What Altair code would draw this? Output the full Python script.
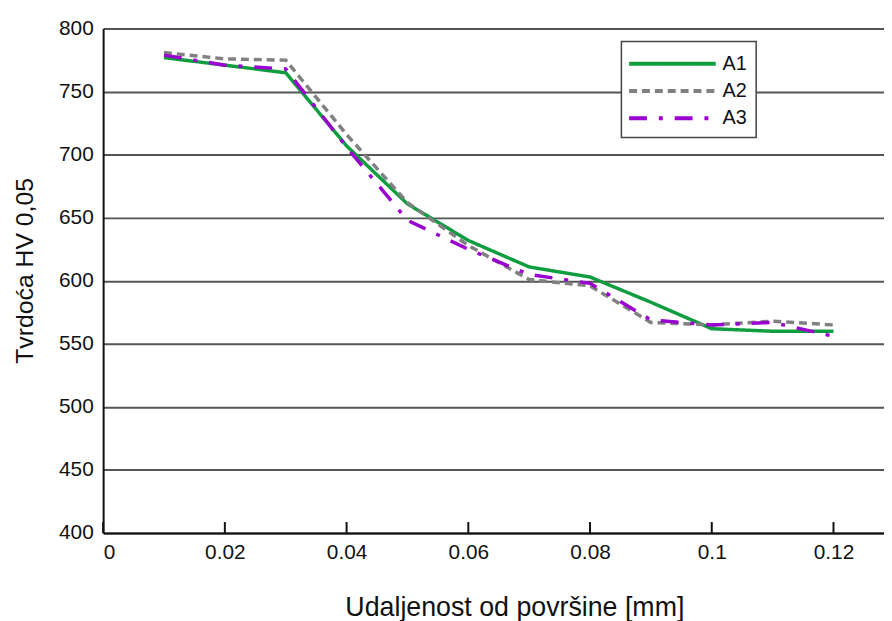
import altair as alt
import pandas as pd

# Data
x_mm = [0.01, 0.02, 0.03, 0.04, 0.05, 0.06, 0.07, 0.08, 0.09, 0.10, 0.11, 0.12]
a1 = [777, 771, 765, 707, 661, 632, 611, 603, 583, 562, 560, 560]
a2 = [781, 776, 775, 716, 662, 628, 601, 596, 567, 565, 568, 565]
a3 = [779, 771, 768, 706, 648, 625, 605, 598, 569, 565, 567, 556]

series = ["A1", "A2", "A3"]
colors = ["#0f9d3f", "#808080", "#9a00d0"]
dashes = [[1, 0], [8, 5], [18, 12, 4, 12]]

x_ticks = [0, 0.02, 0.04, 0.06, 0.08, 0.10, 0.12]
y_ticks = [400, 450, 500, 550, 600, 650, 700, 750, 800]

rows = []
for name, vals in zip(series, [a1, a2, a3]):
    for xv, yv in zip(x_mm, vals):
        rows.append({"x": xv, "y": yv, "serija": name})
df = pd.DataFrame(rows)
ticks_df = pd.DataFrame({"x": x_ticks})

FONT = "Liberation Sans"
W, H = 788, 509

xscale = alt.Scale(domain=[0, 0.1283], nice=False, zero=False)
yscale = alt.Scale(domain=[400, 800], nice=False, zero=False)

lines = alt.Chart(df).mark_line(strokeWidth=3.5, strokeCap="butt").encode(
    x=alt.X("x:Q", scale=xscale,
            axis=alt.Axis(values=x_ticks, format="~g", grid=False, tickSize=0,
                          labelPadding=9, labelFontSize=21, labelFont=FONT,
                          labelColor="#111", domainColor="#111", domainWidth=2,
                          title="Udaljenost od površine [mm]", titleFont=FONT,
                          titleFontSize=27, titleFontWeight="normal", titleColor="#111",
                          titleX=415, titleY=83, titleBaseline="alphabetic",
                          titleAnchor="start", titleAlign="center")),
    y=alt.Y("y:Q", scale=yscale,
            axis=alt.Axis(values=y_ticks, grid=True, gridColor="#555", gridWidth=2,
                          tickSize=0, labelPadding=10, labelFontSize=21, labelFont=FONT,
                          labelColor="#111", domainColor="#111", domainWidth=2,
                          title="Tvrdoća HV 0,05", titleFont=FONT, titleFontSize=25,
                          titleFontWeight="normal", titleColor="#111",
                          titleX=-71, titleY=244, titleBaseline="alphabetic",
                          titleAlign="center", titleAngle=270)),
    color=alt.Color("serija:N", scale=alt.Scale(domain=series, range=colors),
                    legend=alt.Legend(title=None, orient="none", legendX=523, legendY=13,
                                      symbolType="M-3.8,0H3.8", symbolSize=529,
                                      symbolOffset=29,
                                      symbolStrokeWidth=4, labelFontSize=20, labelFont=FONT,
                                      labelColor="#111", labelOffset=37,
                                      fillColor="white", strokeColor="#444",
                                      padding=9, rowPadding=3.5)),
    strokeDash=alt.StrokeDash("serija:N", scale=alt.Scale(domain=series, range=dashes),
                              legend=None),
)

tick_marks = alt.Chart(ticks_df).mark_rule(color="#111", strokeWidth=2).encode(
    x=alt.X("x:Q", scale=xscale),
    y=alt.datum(400, scale=yscale),
    y2=alt.datum(408.7),
)

chart = alt.layer(lines, tick_marks).properties(
    width=W, height=H,
    autosize=alt.AutoSizeParams(type="none"),
    padding={"left": 96, "top": 18, "right": 0, "bottom": 86},
    background="white",
).configure_view(strokeWidth=0).configure_legend(strokeWidth=1.5)

chart.save("out.html", embed_options={"renderer": "svg", "actions": False})
